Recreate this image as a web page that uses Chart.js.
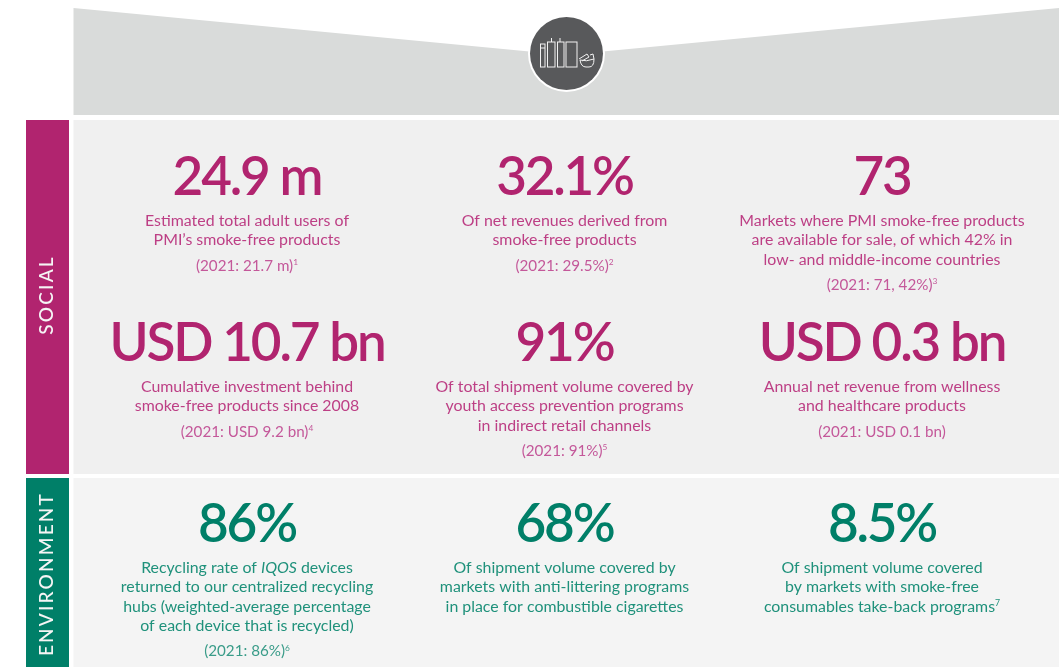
<!DOCTYPE html>
<html><head><meta charset="utf-8">
<style>html,body{margin:0;padding:0;background:#fff;overflow:hidden}#w{position:absolute;left:0;top:0;width:1064px;height:667px}</style>
<script src="https://cdn.jsdelivr.net/npm/chart.js@4"></script></head>
<body><div id="w"><canvas id="c"></canvas></div>
<script>
const sections = ["SOCIAL", "ENVIRONMENT"];
const socialValues = ["24.9 m", "32.1%", "73", "USD 10.7 bn", "91%", "USD 0.3 bn"];
const socialCaptions = [
  ["Estimated total adult users of", "PMI’s smoke-free products"],
  ["Of net revenues derived from", "smoke-free products"],
  ["Markets where PMI smoke-free products", "are available for sale, of which 42% in", "low- and middle-income countries"],
  ["Cumulative investment behind", "smoke-free products since 2008"],
  ["Of total shipment volume covered by", "youth access prevention programs", "in indirect retail channels"],
  ["Annual net revenue from wellness", "and healthcare products"]
];
const socialPrior = ["(2021: 21.7 m)", "(2021: 29.5%)", "(2021: 71, 42%)", "(2021: USD 9.2 bn)", "(2021: 91%)", "(2021: USD 0.1 bn)"];
const socialNotes = ["1", "2", "3", "4", "5", ""];
const environmentValues = ["86%", "68%", "8.5%"];
const environmentCaptions = [
  ["Recycling rate of *IQOS* devices", "returned to our centralized recycling", "hubs (weighted-average percentage", "of each device that is recycled)"],
  ["Of shipment volume covered by", "markets with anti-littering programs", "in place for combustible cigarettes"],
  ["Of shipment volume covered", "by markets with smoke-free", "consumables take-back programs^7"]
];
const environmentPrior = ["(2021: 86%)", "", ""];
const environmentNotes = ["6", "", ""];

const COLX = [247, 564.5, 882];
const MAG = {h:"#b1246f", c:"#bd3f85", p:"#c4589a"};
const GRN = {h:"#007f68", c:"#1f917b", p:"#3a9c89"};
const FONT = "Lato, sans-serif";

function runs(ctx, text, x, y, size, color, note){
  const parts = [];
  text.split(/(\*[^*]+\*|\^\d)/).filter(Boolean).forEach(s=>{
    if(s[0]==="*") parts.push({t:s.slice(1,-1), f:`italic 400 ${size}px ${FONT}`, dy:0});
    else if(s[0]==="^") parts.push({t:s.slice(1), f:`400 ${size*0.55}px ${FONT}`, dy:-size*0.36});
    else parts.push({t:s, f:`400 ${size}px ${FONT}`, dy:0});
  });
  if(note) parts.push({t:note, f:`400 ${size*0.55}px ${FONT}`, dy:-size*0.36});
  let w=0; parts.forEach(p=>{ctx.font=p.f; p.w=ctx.measureText(p.t).width; w+=p.w;});
  let cx=x-w/2;
  ctx.textAlign="left"; ctx.textBaseline="alphabetic"; ctx.fillStyle=color;
  parts.forEach(p=>{ctx.font=p.f; ctx.fillText(p.t,cx,y+p.dy); cx+=p.w;});
}
function block(ctx, col, value, caps, prior, note, base, pal){
  const x=COLX[col];
  ctx.font=`600 53px ${FONT}`; ctx.letterSpacing="-2.2px"; ctx.textAlign="center"; ctx.textBaseline="alphabetic"; ctx.fillStyle=pal.h;
  ctx.fillText(value,x,base);
  ctx.letterSpacing="0px";
  let y=base+31;
  caps.forEach(l=>{runs(ctx,l,x,y,15.9,pal.c,""); y+=19.3;});
  if(prior) runs(ctx,prior,x,y+6,15.2,pal.p,note);
}
function icon(ctx){
  ctx.save(); ctx.strokeStyle="#f2f2f2"; ctx.lineWidth=1;
  [[540.5,44,4.5,23],[547.5,42,7.5,25],[557.5,42,6.5,25],[566,42,11,25]].forEach(r=>ctx.strokeRect(...r));
  ctx.beginPath(); ctx.moveTo(551.5,42); ctx.lineTo(551.5,38); ctx.moveTo(560,42); ctx.lineTo(560,38); ctx.moveTo(541,48); ctx.lineTo(545,48); ctx.stroke();
  ctx.beginPath(); ctx.moveTo(580,60); ctx.quadraticCurveTo(581,67,586,67); ctx.lineTo(589,67); ctx.quadraticCurveTo(594,67,594,59); ctx.quadraticCurveTo(586,62,580,60); ctx.stroke();
  ctx.beginPath(); ctx.moveTo(579,59); ctx.lineTo(587,54); ctx.lineTo(589,57); ctx.lineTo(582,61); ctx.moveTo(590,55); ctx.lineTo(593,54); ctx.lineTo(594,59); ctx.stroke();
  ctx.restore();
}
const panels = {
  id:"panels",
  beforeDatasetsDraw(chart){
    const c=chart.ctx; c.save();
    c.fillStyle="#d9dbda"; c.beginPath(); c.moveTo(73.5,8); c.lineTo(566,55); c.lineTo(1059,8); c.lineTo(1059,115); c.lineTo(73.5,115); c.closePath(); c.fill();
    c.fillStyle="#f0f0f0"; c.fillRect(73.5,120,985.5,354);
    c.fillStyle="#f4f4f4"; c.fillRect(73.5,478,985.5,189);
    c.fillStyle="#b1246f"; c.fillRect(26,120,43,354);
    c.fillStyle="#007f68"; c.fillRect(26,478,43,189);
    c.fillStyle="#fff"; c.beginPath(); c.arc(566.5,53.5,38.5,0,7); c.fill();
    c.fillStyle="#58595b"; c.beginPath(); c.arc(566.5,53.5,36.5,0,7); c.fill();
    icon(c);
    c.restore();
  },
  afterDatasetsDraw(chart){
    const c=chart.ctx; c.save();
    [[sections[0],47,295],[sections[1],47,574]].forEach(([t,x,y])=>{
      c.save(); c.translate(x,y); c.rotate(-Math.PI/2);
      c.font=`500 19px ${FONT}`; c.letterSpacing="2.2px"; c.fillStyle="#f5f5f5"; c.textAlign="center"; c.textBaseline="middle";
      c.fillText(t,0,0); c.restore();
    });
    c.letterSpacing="0px";
    const socialBases=[195,195,195,361,361,361];
    socialValues.forEach((v,i)=>block(c,i%3,v,socialCaptions[i],socialPrior[i],socialNotes[i],socialBases[i],MAG));
    environmentValues.forEach((v,i)=>block(c,i,v,environmentCaptions[i],environmentPrior[i],environmentNotes[i],542,GRN));
    c.restore();
  }
};
new Chart(document.getElementById("c"),{
  type:"scatter",
  data:{datasets:[{data:[],pointRadius:0}]},
  options:{responsive:true,maintainAspectRatio:false,animation:false,
    layout:{padding:0},
    plugins:{legend:{display:false},tooltip:{enabled:false},title:{display:false}},
    scales:{x:{display:false,min:0,max:1064},y:{display:false,min:0,max:667,reverse:true}}},
  plugins:[panels]
});
</script></body></html>
